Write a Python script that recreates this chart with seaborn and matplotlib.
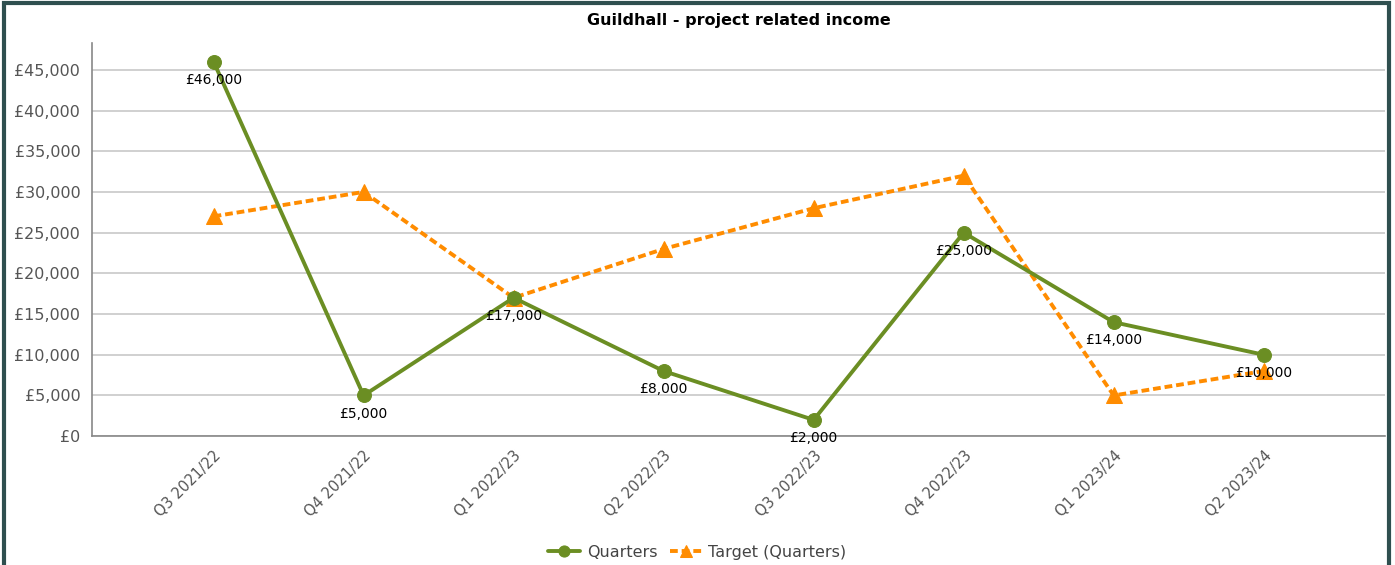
import matplotlib

matplotlib.use("Agg")
import matplotlib.pyplot as plt
import numpy as np
import pandas as pd
import seaborn as sns
from matplotlib.patches import Rectangle
from matplotlib.ticker import FuncFormatter, MultipleLocator

quarters = [
    "Q3 2021/22",
    "Q4 2021/22",
    "Q1 2022/23",
    "Q2 2022/23",
    "Q3 2022/23",
    "Q4 2022/23",
    "Q1 2023/24",
    "Q2 2023/24",
]
income = [46000, 5000, 17000, 8000, 2000, 25000, 14000, 10000]
target = [27000, 30000, 17000, 23000, 28000, 32000, 5000, 8000]

GREEN = "#6b8e23"
ORANGE = "#ff8c00"

df = pd.DataFrame({"quarter": quarters, "income": income, "target": target})
df["pos"] = np.arange(len(quarters))

sns.set_style("white")
plt.rcParams["font.family"] = ["DejaVu Sans"]

fig = plt.figure(figsize=(13.95, 5.65), dpi=100)
ax = fig.add_axes([0.066, 0.228, 0.927, 0.696])

sns.lineplot(
    data=df, x="pos", y="income", ax=ax, color=GREEN, linewidth=2.8,
    marker="o", markersize=10, markeredgecolor=GREEN, label="Quarters",
    zorder=3,
)
sns.lineplot(
    data=df, x="pos", y="target", ax=ax, color=ORANGE, linewidth=2.8,
    linestyle=(0, (2, 1)), marker="^", markersize=11, markeredgecolor=ORANGE,
    label="Target (Quarters)", zorder=2,
)

for x, v in zip(df["pos"], income):
    ax.annotate(
        f"£{v:,}", (x, v), xytext=(0, -8), textcoords="offset points",
        ha="center", va="top", fontsize=10, color="black", zorder=4,
    )

ax.set_xlim(-0.81, 7.81)
ax.set_ylim(0, 48300)
ax.yaxis.set_major_locator(MultipleLocator(5000))
ax.yaxis.set_major_formatter(FuncFormatter(lambda v, _: f"£{int(v):,}"))
ax.set_xticks(df["pos"])
ax.set_xticklabels(quarters, rotation=45, ha="right", rotation_mode="anchor")
ax.grid(axis="y", color="#c8c8c8", linewidth=1.2)
ax.set_axisbelow(True)
ax.set_xlabel("")
ax.set_ylabel("")

for side in ["top", "right"]:
    ax.spines[side].set_visible(False)
for side in ["left", "bottom"]:
    ax.spines[side].set_color("#888888")
    ax.spines[side].set_linewidth(1.2)
ax.tick_params(axis="both", colors="#888888", length=5, width=1,
               labelcolor="#555555", labelsize=11.5)
ax.tick_params(axis="x", labelsize=10.5)

ax.set_title("Guildhall - project related income", fontsize=11.5,
             fontweight="bold", color="black", pad=13)

ax.legend(
    loc="center", bbox_to_anchor=(0.5, 0.022), bbox_transform=fig.transFigure,
    ncol=2, frameon=False, fontsize=11.5, handlelength=2.0, markerscale=0.8,
    handletextpad=0.4, columnspacing=0.8, labelcolor="#444444",
)

fig.patches.append(Rectangle(
    (0.003, -0.05), 0.993, 1.045, transform=fig.transFigure, fill=False,
    edgecolor="#2f4f4f", linewidth=3,
))

fig.savefig("out.png", dpi=100)
